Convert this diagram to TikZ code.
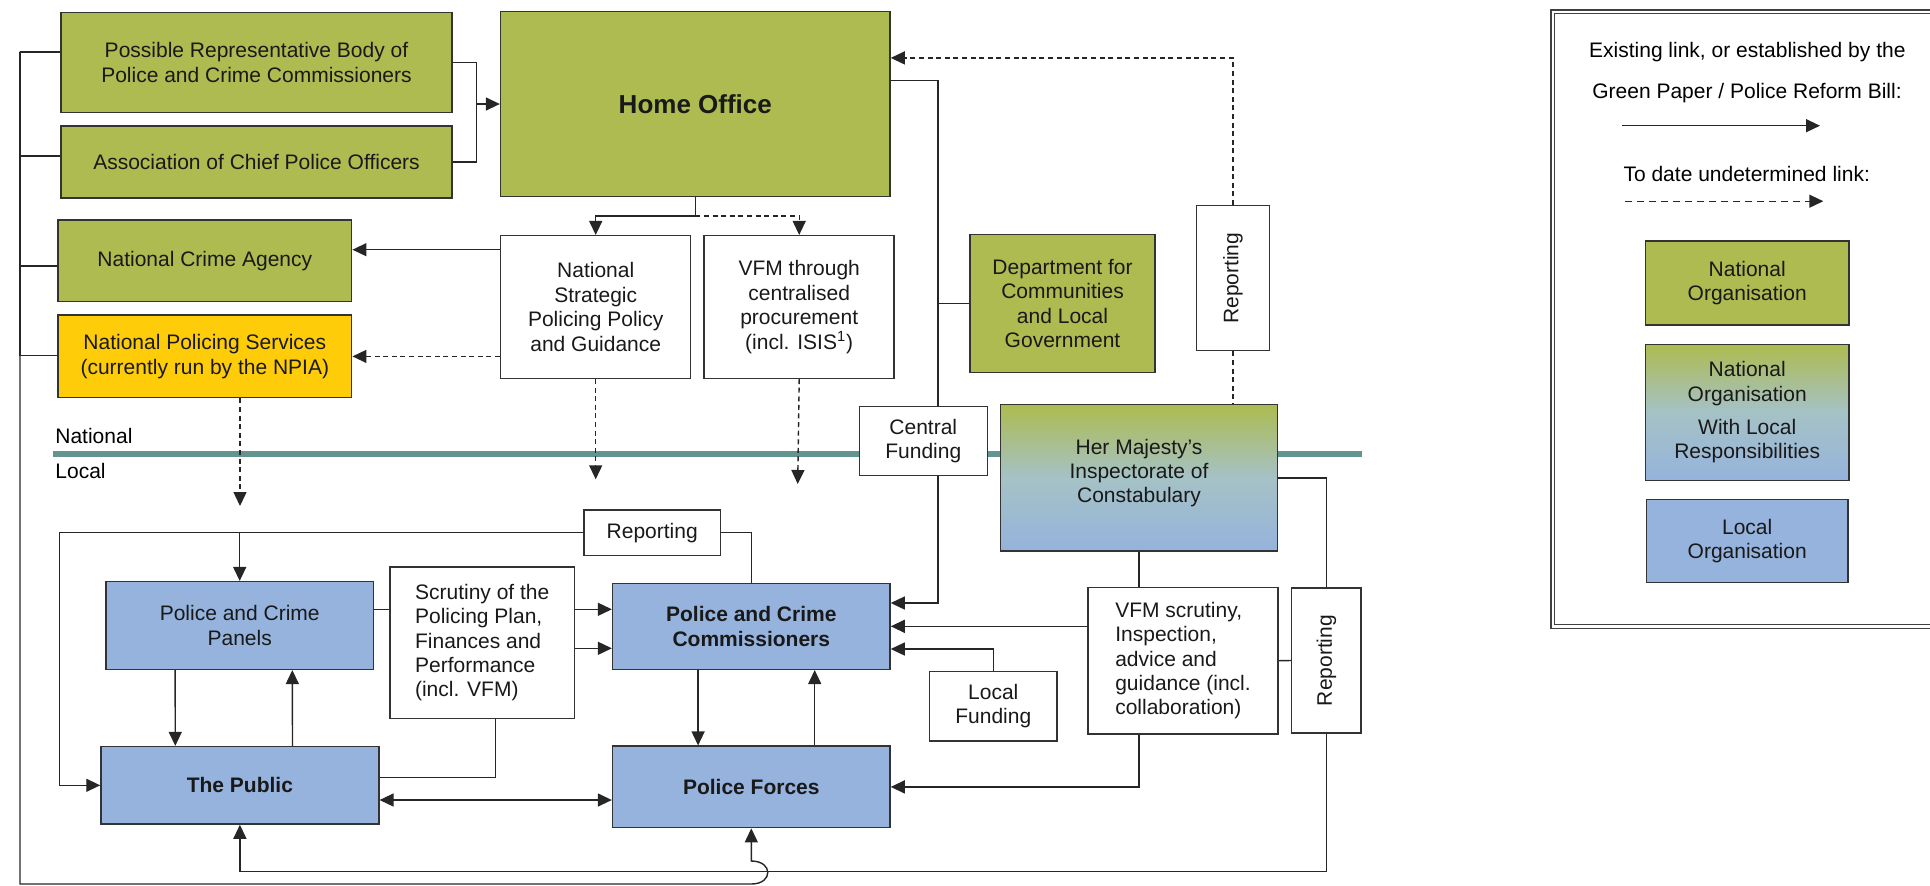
\documentclass[tikz,border=0pt]{standalone}
\usepackage{fontspec}
\setmainfont{Liberation Sans}
\usetikzlibrary{positioning,arrows.meta}

\definecolor{natgreen}{RGB}{173,187,80}
\definecolor{locblue}{RGB}{149,179,220}
\definecolor{mixgrey}{RGB}{165,194,198}
\definecolor{npsyellow}{RGB}{254,204,9}
\definecolor{divteal}{RGB}{99,148,144}
\newcommand\diagfont{\fontsize{10.5}{12.2}\selectfont}

\begin{document}
\begin{tikzpicture}[x=0.5pt,y=-0.5pt,
	box/.style={rectangle,draw=black!80,line width=0.75pt,align=center,inner sep=2pt,text=black!90,font=\diagfont},
	nat/.style={box,fill=natgreen},
	loc/.style={box,fill=locblue},
	mix/.style={box,top color=natgreen,bottom color=locblue,middle color=mixgrey},
	link/.style={draw=black!85,line width=0.7pt},
	dlink/.style={link,dash pattern=on 2.5pt off 1.8pt},
	arr/.style={-{Triangle[length=7pt,width=6.5pt]}},
	arrs/.style={{Triangle[length=7pt,width=6.5pt]}-{Triangle[length=7pt,width=6.5pt]}},
	node distance=6pt]
	\useasboundingbox (0,0) rectangle (1930,885);

	% national / local divide
	\coordinate (divl) at (53,454);
	\coordinate (divr) at (1362,454);
	\draw[divteal,line width=2.6pt] (divl) -- (divr);
	\node[font=\diagfont,anchor=west,inner sep=0pt] (natlbl) at (55,436) {National};
	\node[font=\diagfont,anchor=west,inner sep=0pt] (loclbl) at (55,471) {Local};

	% national bodies
	\node[nat,minimum width=195.5pt,minimum height=49.8pt] (possrep) at (256.5,62.5) {Possible Representative Body of\\Police and Crime Commissioners};
	\node[nat,minimum width=195.5pt,minimum height=36pt] (acpo) [below = of possrep] {Association of Chief Police Officers};
	\node[nat,minimum width=194.7pt,minimum height=92.7pt,font=\bfseries\fontsize{13}{15}\selectfont] (ho) at (695.3,104) {Home Office};
	\node[nat,minimum width=146.9pt,minimum height=40.9pt] (nca) at (204.8,260.8) {National Crime Agency};
	\node[box,fill=npsyellow,minimum width=146.9pt,minimum height=41.2pt] (nps) [below = of nca] {National Policing Services\\(currently run by the NPIA)};
	\node[box,minimum width=95pt,minimum height=71.3pt] (nspp) at (595.7,307) {National\\Strategic\\Policing Policy\\and Guidance};
	\node[box,minimum width=95pt,minimum height=71.3pt] (vfm) [right = of nspp] {VFM through\\centralised\\procurement\\(incl. ISIS\textsuperscript{1})};
	\node[nat,minimum width=92.5pt,minimum height=69pt] (dclg) at (1062.5,303.5) {Department for\\Communities\\and Local\\Government};
	\node[box,rotate=90,minimum width=72.5pt,minimum height=36.5pt] (reptop) at (1232.8,278.2) {Reporting};
	\node[box,fill=white,minimum width=64pt,minimum height=34.7pt] (cf) at (923.3,441) {Central\\Funding};
	\node[mix,text depth=7pt,minimum width=138.7pt,minimum height=73.2pt] (hmic) at (1139,477.8) {Her Majesty’s\\Inspectorate of\\Constabulary};

	% local bodies
	\node[box,minimum width=68.2pt,minimum height=22.7pt] (replocal) at (652.2,532.7) {Reporting};
	\node[loc,minimum width=133.7pt,minimum height=43.8pt] (pcp) at (239.7,625.5) {Police and Crime\\Panels};
	\node[box,align=left,minimum width=92.2pt,minimum height=75.7pt] (scrut) at (482.2,642.7) {Scrutiny of the\\Policing Plan,\\Finances and\\Performance\\(incl. VFM)};
	\node[loc,font=\bfseries\diagfont,minimum width=138.7pt,minimum height=43pt] (pcc) at (751.3,626.3) {Police and Crime\\Commissioners};
	\node[loc,font=\bfseries\diagfont,minimum width=138.7pt,minimum height=40.7pt] (pf) [below = 37.7pt of pcc] {Police Forces};
	\node[loc,font=\bfseries\diagfont,minimum width=138.9pt,minimum height=38.7pt] (public) at (239.9,785.3) {The Public};
	\node[box,minimum width=63.8pt,minimum height=34.7pt] (lf) at (993.3,706.3) {Local\\Funding};
	\node[box,align=left,minimum width=95pt,minimum height=73.4pt] (vfms) at (1183,660.7) {VFM scrutiny,\\Inspection,\\advice and\\guidance (incl.\\collaboration)};
	\node[box,rotate=90,minimum width=72.5pt,minimum height=34.7pt] (repright) at (1326.3,660.5) {Reporting};

	% levels and columns for the links
	\coordinate (bustop) at (20,52);
	\coordinate (busbot) at (0,884);
	\coordinate (hoptop) at (0,861);
	\coordinate (brk) at (476.7,0);
	\coordinate (hoout) at (0,80.7);
	\coordinate (colcf) at (938,0);
	\coordinate (hosplit) at (0,216);
	\coordinate (ncain) at (0,249.7);
	\coordinate (repin) at (0,57.9);
	\coordinate (cfin) at (0,603);
	\coordinate (lfin) at (0,649);
	\coordinate (scra) at (0,609.3);
	\coordinate (scrb) at (0,648.3);
	\coordinate (scrout) at (495.3,777.3);
	\coordinate (pubpf) at (0,800);
	\coordinate (lpcol) at (59.3,0);
	\coordinate (botline) at (0,871.7);
	\coordinate (npsend) at (240,506);
	\coordinate (nsppend) at (595.7,479.3);
	\coordinate (vfmend) at (797.7,484);

	% national links
	\foreach \n/\s in {possrep/5.2pt,acpo/3pt,nca/-2.6pt,nps/0.5pt}
		\draw[link,line width=0.9pt] ([yshift=\s]\n.west) -| (bustop);
	\draw[link,arr] (bustop) |- (pf.south |- busbot) .. controls +(22,0) and +(22,0) .. (pf.south |- hoptop) -- (pf.south);
	\draw[link] (possrep.east) -| (brk |- acpo.east) -- (acpo.east);
	\draw[link,arr] (brk |- ho.west) -- (ho.west);
	\draw[link] (ho.east |- hoout) -| (colcf |- cf.north);
	\draw[link] (colcf |- dclg.west) -- (dclg.west);
	\draw[link,arr] (colcf |- cf.south) |- (pcc.east |- cfin);
	\draw[link,arr] (ho.south) |- (nspp.north |- hosplit) -- (nspp.north);
	\draw[dlink,arr] (ho.south |- hosplit) -| (vfm.north);
	\draw[link,arr] (nspp.west |- ncain) -- (nca.east |- ncain);
	\draw[dlink,arr] (nspp.west |- nps.east) -- (nps.east);
	\draw[dlink,arr] (npsend |- nps.south) -- (npsend);
	\draw[dlink,arr] (nspp.south) -- (nsppend);
	\draw[dlink,arr] (vfm.south) -- (vfmend);
	\draw[dlink,arr] (reptop.east) |- (ho.east |- repin);
	\draw[dlink] (reptop.west) -- (reptop.west |- hmic.north);

	% local links
	\draw[link] (hmic.east) -| (repright.east);
	\draw[link,arr] (repright.west) |- (public.south |- botline) -- (public.south);
	\draw[link] (hmic.south) -- (hmic.south |- vfms.north);
	\draw[link,arr] (vfms.west |- pcc.east) -- (pcc.east);
	\draw[link,arr] (hmic.south |- vfms.south) |- (pf.east);
	\draw[link] (vfms.east) -- (repright.north);
	\draw[link,arr] (lf.north) |- (pcc.east |- lfin);
	\draw[link,arr] ([xshift=-26.6pt]pcc.south) -- ([xshift=-26.6pt]pf.north);
	\draw[link,arr] ([xshift=31.7pt]pf.north) -- ([xshift=31.7pt]pcc.south);
	\draw[link,arr] ([xshift=-32.3pt]pcp.south) -- ([xshift=-32.3pt]public.north);
	\draw[link,arr] ([xshift=26.3pt]public.north) -- ([xshift=26.3pt]pcp.south);
	\draw[link,arrs] (public.east |- pubpf) -- (pf.west |- pubpf);
	\draw[link] (pcp.east |- scra) -- (scrut.west |- scra);
	\draw[link,arr] (scrut.east |- scra) -- (pcc.west |- scra);
	\draw[link,arr] (scrut.east |- scrb) -- (pcc.west |- scrb);
	\draw[link] (scrut.south -| scrout) |- (public.east |- scrout);
	\draw[link] (pcc.north) |- (replocal.east);
	\draw[link,arr] (replocal.west) -| (lpcol |- public.west) -- (public.west);
	\draw[link,arr] (pcp.north |- replocal.west) -- (pcp.north);

	% key
	\draw[black!75,line width=0.8pt] (1550.7,9.8) rectangle (1945,628.6);
	\draw[black!75,line width=0.5pt] (1554.5,13.9) rectangle (1945,624.5);
	\node[font=\diagfont] (keya) at (1747.3,51.8) {Existing link, or established by the};
	\node[font=\diagfont] (keyb) at (1747,92.7) {Green Paper / Police Reform Bill:};
	\coordinate (solidl) at (1622,125.7);
	\coordinate (solidr) at (1820,125.7);
	\draw[link,arr] (solidl) -- (solidr);
	\node[font=\diagfont] (keyc) at (1746.7,173.5) {To date undetermined link:};
	\coordinate (dashl) at (1625.3,201.2);
	\coordinate (dashr) at (1823.3,201.2);
	\draw[dlink,arr,dash pattern=on 3.3pt off 2.7pt] (dashl) -- (dashr);
	\node[nat,minimum width=101.9pt,minimum height=42pt] (natorg) at (1747.2,282.9) {National\\Organisation};
	\node[mix,minimum width=101.7pt,minimum height=68pt] (natloc) [below = 9pt of natorg] {National\\Organisation\\[4.5pt]With Local\\Responsibilities};
	\node[loc,minimum width=100.7pt,minimum height=41.6pt] (locorg) [below = 8.8pt of natloc] {Local\\Organisation};
\end{tikzpicture}
\end{document}
